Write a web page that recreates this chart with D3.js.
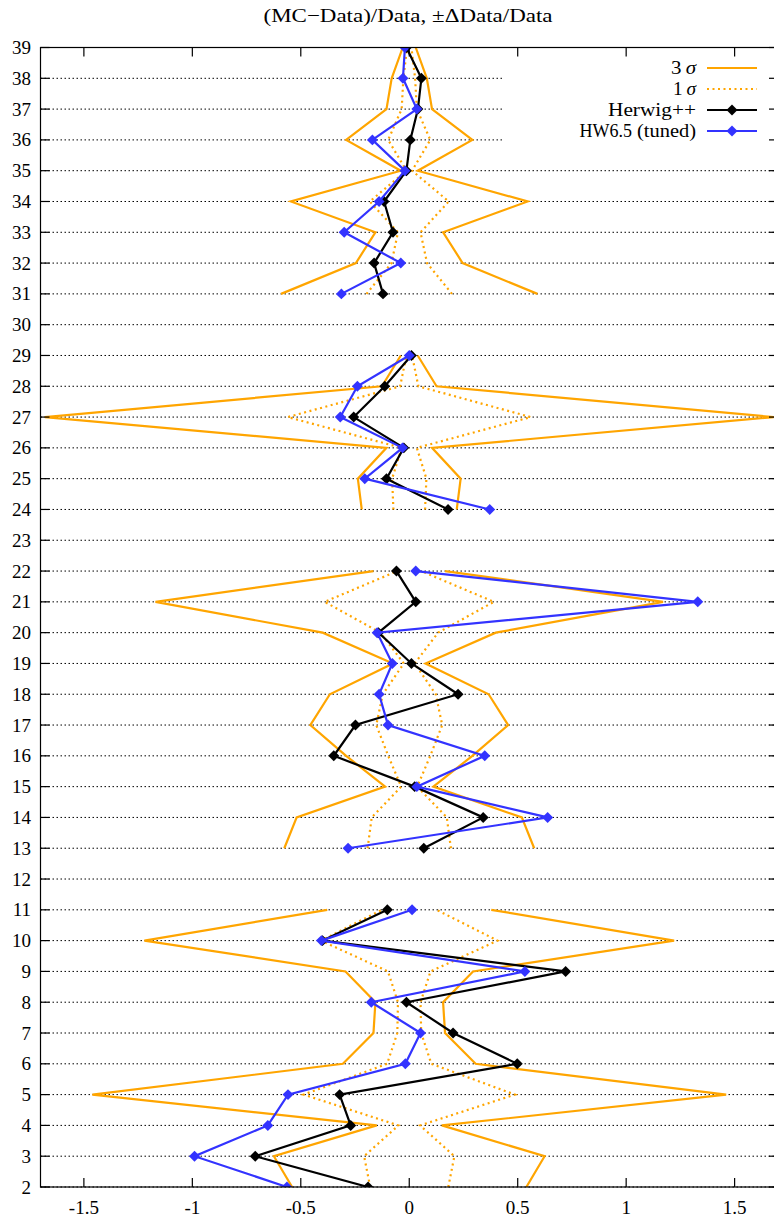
<!DOCTYPE html>
<html>
<head>
<meta charset="utf-8">
<script src="https://cdn.jsdelivr.net/npm/d3@7"></script>
<style>
  html, body { margin: 0; padding: 0; background: #fff; }
  svg { display: block; }
  text { font-family: "Liberation Serif", "Times New Roman", serif; fill: #000; }
</style>
</head>
<body>
<svg id="chart" width="774" height="1220"></svg>
<script>
// ---- data (bins 2..39; null = no entry) ----
const bins = d3.range(2, 40);
// relative data uncertainty  ΔData/Data  (1 sigma)
const dataErr = [0.18, 0.208, 0.05, 0.487, 0.102, 0.055, 0.052, 0.098, 0.407, 0.126,
  null,
  0.192, 0.173, 0.037, 0.097, 0.152, 0.122, 0.025, 0.133, 0.39, 0.055,
  null,
  0.073, 0.079, 0.035, 0.56, 0.042, 0.013,
  null,
  0.197, 0.082, 0.052, 0.182, 0.013, 0.097, 0.035, 0.027, 0.01];
// (MC-Data)/Data for Herwig++
const herwigpp = [-0.19, -0.71, -0.27, -0.321, 0.498, 0.202, -0.013, 0.721, -0.40, -0.101,
  null,
  0.067, 0.341, 0.025, -0.348, -0.248, 0.225, 0.01, -0.142, 0.03, -0.059,
  null,
  0.179, -0.105, -0.025, -0.256, -0.113, 0.01,
  null,
  -0.121, -0.162, -0.075, -0.116, -0.013, 0.005, 0.04, 0.056, -0.013];
// (MC-Data)/Data for HW6.5 (tuned)
const hw65 = [-0.564, -0.99, -0.652, -0.559, -0.018, 0.052, -0.175, 0.533, -0.405, 0.013,
  null,
  -0.282, 0.638, 0.035, 0.348, -0.098, -0.139, -0.078, -0.148, 1.33, 0.030,
  null,
  0.371, -0.205, -0.031, -0.318, -0.239, 0.00,
  null,
  -0.313, -0.039, -0.30, -0.139, -0.02, -0.17, 0.035, -0.029, -0.02];
const xTicks = [-1.5, -1, -0.5, 0, 0.5, 1, 1.5];
const yTicks = d3.range(2, 40);
const title = "(MC\u2212Data)/Data, \u00B1\u0394Data/Data";

// ---- layout ----
const svg = d3.select("#chart");
const L = 40.5, R = 778, T = 47.5, B = 1187;
const x = d3.scaleLinear().domain([-1.7, 1.7]).range([L, R]);
const y = d3.scaleLinear().domain([2, 39]).range([B, T]);

const ORANGE = "#ffa500", BLUE = "#3333ff";

svg.append("defs").append("clipPath").attr("id", "clip")
  .append("rect").attr("x", L).attr("y", T).attr("width", R - L).attr("height", B - T);

// grid
svg.append("g").selectAll("line").data(yTicks.filter(d => d !== 39)).join("line")
  .attr("x1", L).attr("x2", R).attr("y1", d => y(d)).attr("y2", d => y(d))
  .attr("stroke", "#000").attr("stroke-width", 1).attr("stroke-dasharray", "1.5,2.5");

// legend background (covers grid)
svg.append("rect").attr("x", 503).attr("y", 55).attr("width", R - 503 - 1).attr("height", 96)
  .attr("fill", "#fff");

const rows = bins.map((b, i) => ({ b, e: dataErr[i], h: herwigpp[i], w: hw65[i] }));
const plot = svg.append("g").attr("clip-path", "url(#clip)");

function lineOf(fx) {
  return d3.line().defined(d => fx(d) !== null).x(d => x(fx(d))).y(d => y(d.b));
}
const nz = (v, f) => v === null ? null : f(v);

// 3 sigma band (solid)
[-3, 3].forEach(k => {
  plot.append("path").datum(rows)
    .attr("d", lineOf(d => nz(d.e, e => k * e)))
    .attr("fill", "none").attr("stroke", ORANGE).attr("stroke-width", 2.2).attr("stroke-linejoin", "miter");
});
// 1 sigma band (dotted)
[-1, 1].forEach(k => {
  plot.append("path").datum(rows)
    .attr("d", lineOf(d => nz(d.e, e => k * e)))
    .attr("fill", "none").attr("stroke", ORANGE).attr("stroke-width", 2.2)
    .attr("stroke-dasharray", "2,3.5");
});

const marker = d3.symbol().type(d3.symbolSquare).size(60);
function series(key, color) {
  const g = plot.append("g");
  g.append("path").datum(rows)
    .attr("d", lineOf(d => d[key]))
    .attr("fill", "none").attr("stroke", color).attr("stroke-width", 2.2);
  g.selectAll("path.m").data(rows.filter(d => d[key] !== null)).join("path")
    .attr("class", "m")
    .attr("transform", d => `translate(${x(d[key])},${y(d.b)}) rotate(45)`)
    .attr("d", marker)
    .attr("fill", color);
}
series("h", "#000");
series("w", BLUE);

// frame
svg.append("rect").attr("x", L).attr("y", T).attr("width", R - L).attr("height", B - T)
  .attr("fill", "none").attr("stroke", "#000").attr("stroke-width", 1.2);

// ticks
const TL = 9;
const tg = svg.append("g").attr("stroke", "#000").attr("stroke-width", 1.2);
xTicks.forEach(v => {
  tg.append("line").attr("x1", x(v)).attr("x2", x(v)).attr("y1", B).attr("y2", B - TL);
  tg.append("line").attr("x1", x(v)).attr("x2", x(v)).attr("y1", T).attr("y2", T + TL);
});
yTicks.forEach(v => {
  tg.append("line").attr("x1", L).attr("x2", L + TL).attr("y1", y(v)).attr("y2", y(v));
  tg.append("line").attr("x1", R).attr("x2", R - TL).attr("y1", y(v)).attr("y2", y(v));
});

// tick labels
svg.append("g").selectAll("text").data(xTicks).join("text")
  .attr("x", d => x(d)).attr("y", 1214).attr("text-anchor", "middle")
  .attr("font-size", 19).text(d => String(d));
svg.append("g").selectAll("text").data(yTicks).join("text")
  .attr("x", 31).attr("y", d => y(d) + 6.5).attr("text-anchor", "end")
  .attr("font-size", 19).text(d => d);

// title
svg.append("text").attr("x", 408).attr("y", 22).attr("text-anchor", "middle")
  .attr("font-size", 19).attr("textLength", 289).attr("lengthAdjust", "spacingAndGlyphs")
  .text(title);

// legend
const leg = svg.append("g");
const lx1 = 707, lx2 = 757, tx = 696;
const legRows = [
  { y: 68, label: "3\u2009", sym: "\u03C3", stroke: ORANGE, dash: null, marker: null, w: 25 },
  { y: 89, label: "1\u2009", sym: "\u03C3", stroke: ORANGE, dash: "2,3.5", marker: null, w: 23 },
  { y: 110, label: "Herwig++", stroke: "#000", dash: null, marker: "#000", w: 88 },
  { y: 131, label: "HW6.5", mono: true, rest: "(tuned)", stroke: BLUE, dash: null, marker: BLUE }
];
legRows.forEach(r => {
  if (r.mono) {
    leg.append("text").attr("x", tx).attr("y", r.y + 6).attr("text-anchor", "end").attr("font-size", 19)
      .attr("textLength", 59).attr("lengthAdjust", "spacingAndGlyphs").text(r.rest);
    leg.append("text").attr("x", 632).attr("y", r.y + 6).attr("text-anchor", "end")
      .attr("font-family", "'Liberation Mono', 'DejaVu Sans Mono', monospace").attr("font-size", 18)
      .text(r.label);
  } else {
    const t = leg.append("text").attr("x", tx).attr("y", r.y + 6).attr("text-anchor", "end").attr("font-size", 19)
      .attr("textLength", r.w).attr("lengthAdjust", "spacingAndGlyphs");
    t.append("tspan").text(r.label);
    if (r.sym) t.append("tspan").attr("font-style", "italic").text(r.sym);
  }
  leg.append("line").attr("x1", lx1).attr("x2", lx2).attr("y1", r.y).attr("y2", r.y)
    .attr("stroke", r.stroke).attr("stroke-width", 2.2).attr("stroke-dasharray", r.dash);
  if (r.marker) {
    leg.append("path").attr("transform", `translate(${(lx1 + lx2) / 2},${r.y}) rotate(45)`)
      .attr("d", marker).attr("fill", r.marker);
  }
});
</script>
</body>
</html>
